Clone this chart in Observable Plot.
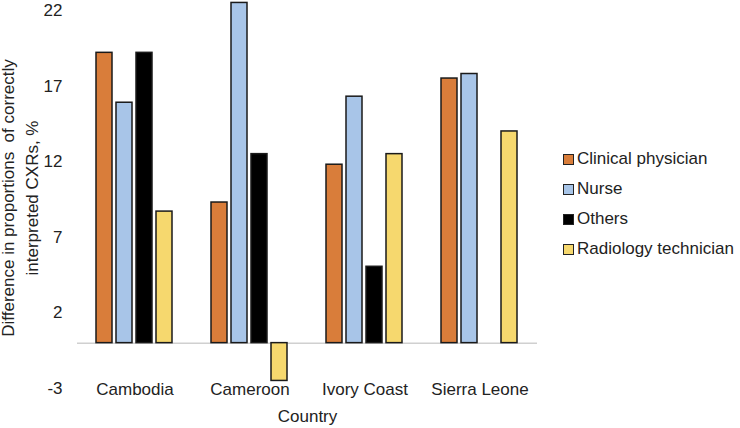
<!DOCTYPE html>
<html>
<head>
<meta charset="utf-8">
<script src="https://cdn.jsdelivr.net/npm/d3@7"></script>
<script src="https://cdn.jsdelivr.net/npm/@observablehq/plot@0.6"></script>
<style>
  html, body { margin: 0; padding: 0; background: #fff; }
  #wrap { position: relative; width: 740px; height: 428px; font-family: "Liberation Sans", Arial, sans-serif; }
  #legend { position: absolute; left: 563px; top: 144px; font-size: 17px; color: #222; }
  #legend .row { display: flex; align-items: center; height: 30px; }
  #legend .sw { width: 9px; height: 9px; border: 1.5px solid #222; margin-right: 3px; }
</style>
</head>
<body>
<div id="wrap"></div>
<script>
const countries = ["Cambodia", "Cameroon", "Ivory Coast", "Sierra Leone"];
const roles = ["Clinical physician", "Nurse", "Others", "Radiology technician"];
const clinical = [19.2, 9.3, 11.8, 17.5];
const nurse = [15.9, 22.5, 16.3, 17.8];
const others = [19.2, 12.5, 5.05, null];
const radiology = [8.7, -2.5, 12.5, 14.0];
const colors = ["#D97D3A", "#A8C5E8", "#000000", "#F6D86E"];
const yTicks = [-3, 2, 7, 12, 17, 22];

const series = [clinical, nurse, others, radiology];
const data = [];
countries.forEach((c, i) => {
  roles.forEach((r, j) => {
    const v = series[j][i];
    if (v != null) data.push({country: c, role: r, value: v});
  });
});

const chart = Plot.plot({
  width: 740,
  height: 428,
  marginLeft: 76,
  marginRight: 203,
  marginTop: 10,
  marginBottom: 40,
  style: {fontFamily: "'Liberation Sans', Arial, sans-serif", fontSize: "17px", color: "#222", background: "#fff"},
  fx: {domain: countries, padding: 0},
  x: {domain: roles, paddingInner: 0.19, paddingOuter: 0.84},
  y: {domain: [-3, 22]},
  color: {domain: roles, range: colors},
  marks: [
    Plot.ruleY([0], {stroke: "#d0d0d0", strokeWidth: 1.5}),
    Plot.barY(data, {fx: "country", x: "role", y: "value", fill: "role", stroke: "#1a1a1a", strokeWidth: 1.5}),
    Plot.axisY({ticks: yTicks, tickFormat: d => String(d), tickSize: 0, tickPadding: 15, label: null, fontSize: 17}),
    Plot.axisX({ticks: [], label: null}),
    Plot.axisFx({anchor: "bottom", tickSize: 0, tickPadding: 0, dy: -6, label: "Country", labelAnchor: "center", labelOffset: 33, fontSize: 17})
  ]
});

const svg = d3.select(chart);
const t = svg.append("text")
  .attr("transform", "translate(0,198) rotate(-90)")
  .attr("text-anchor", "middle")
  .attr("font-size", 17)
  .attr("fill", "#222");
t.append("tspan").attr("x", 0).attr("y", 14).text("Difference in proportions  of correctly").attr("xml:space", "preserve");
t.append("tspan").attr("x", 0).attr("y", 38).text("interpreted CXRs, %");

const wrap = document.getElementById("wrap");
wrap.appendChild(chart);

const legend = document.createElement("div");
legend.id = "legend";
roles.forEach((r, j) => {
  const row = document.createElement("div");
  row.className = "row";
  const sw = document.createElement("span");
  sw.className = "sw";
  sw.style.background = colors[j];
  const lab = document.createElement("span");
  lab.textContent = r;
  row.appendChild(sw);
  row.appendChild(lab);
  legend.appendChild(row);
});
wrap.appendChild(legend);
</script>
</body>
</html>
